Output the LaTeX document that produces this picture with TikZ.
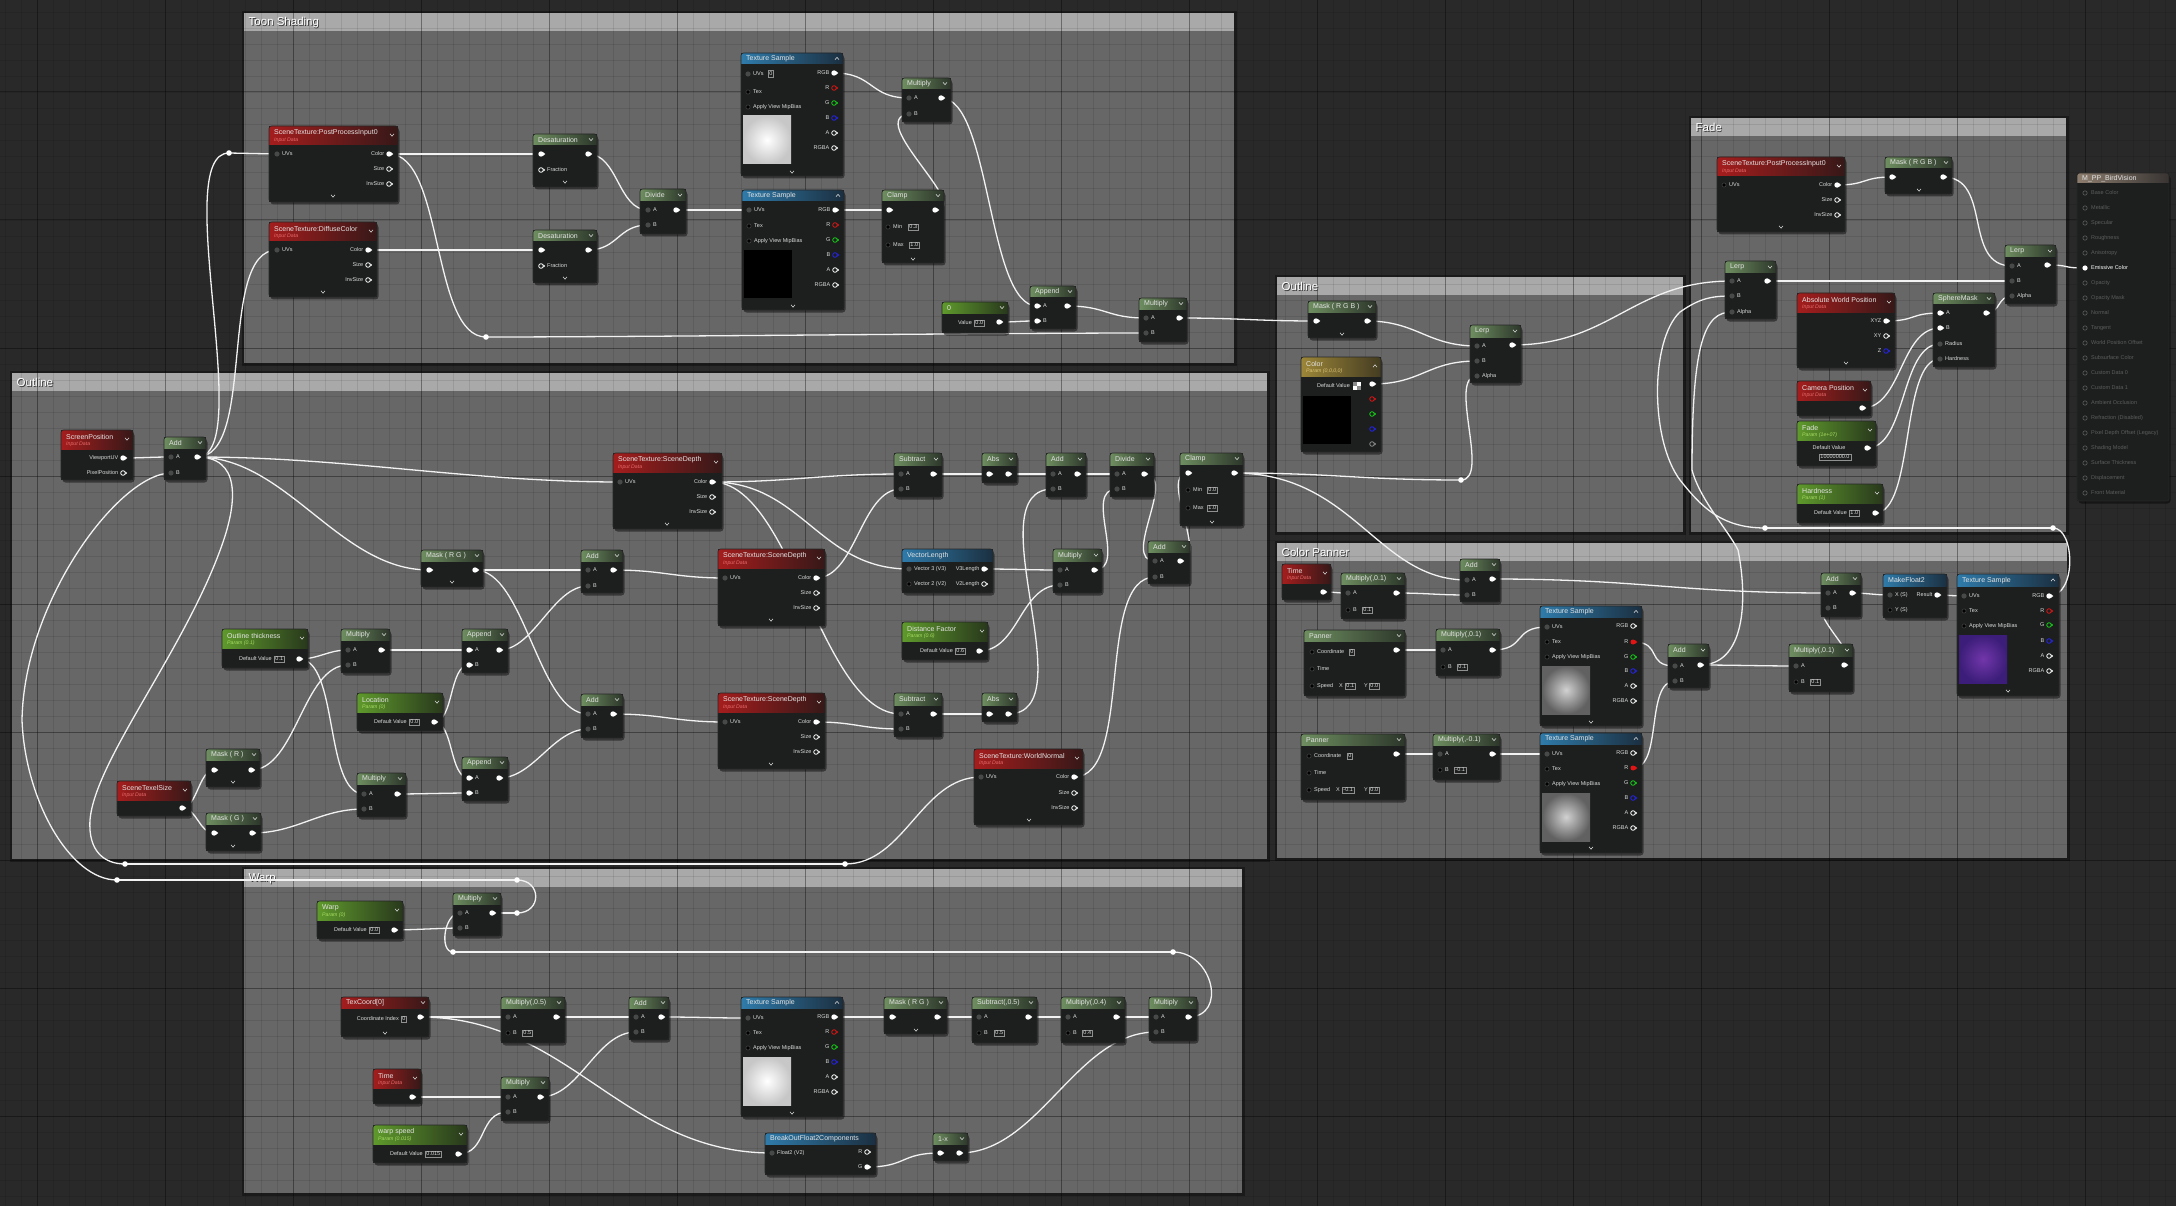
\documentclass[tikz,border=0pt]{standalone}
\usepackage{fontspec}
\setmainfont{Liberation Sans}
\definecolor{bgc}{HTML}{292929}
\definecolor{cbody}{HTML}{676767}
\definecolor{chead}{HTML}{A9A9A9}
\definecolor{nbody}{HTML}{1D1F1F}
\definecolor{ttlc}{HTML}{E4E4E4}
\definecolor{plc}{HTML}{DADADA}
\definecolor{vbc}{HTML}{909090}
\definecolor{hg1}{HTML}{6E8E60}
\definecolor{hg2}{HTML}{2C362A}
\definecolor{hr1}{HTML}{A51D1D}
\definecolor{hr2}{HTML}{361818}
\definecolor{hb1}{HTML}{2F7BAA}
\definecolor{hb2}{HTML}{1B2F40}
\definecolor{hp1}{HTML}{5F9A2C}
\definecolor{hp2}{HTML}{28381C}
\definecolor{hy1}{HTML}{9C8638}
\definecolor{hy2}{HTML}{443C22}
\definecolor{ho1}{HTML}{8C7D6E}
\definecolor{ho2}{HTML}{383432}
\definecolor{subr}{HTML}{E86A6A}
\definecolor{subp}{HTML}{A6DC62}
\definecolor{suby}{HTML}{DCC476}
\definecolor{pind}{HTML}{474949}
\definecolor{dimc}{HTML}{5C5C5C}
\definecolor{pr}{HTML}{E31414}
\definecolor{pg}{HTML}{14D214}
\definecolor{pb}{HTML}{2424F2}
\definecolor{pur1}{HTML}{7236AA}
\definecolor{pur2}{HTML}{3C1E7A}
\definecolor{wirec}{HTML}{F2F2F2}
\pgfdeclarelayer{back}
\pgfdeclarelayer{wires}
\pgfsetlayers{back,wires,main}
\tikzset{
  nodebody/.style={fill=nbody,inner sep=0pt,outer sep=0pt},
  ttl/.style={font=\fontsize{7}{8}\selectfont,text=ttlc,inner sep=0pt},
  subt/.style={font=\fontsize{5.2}{6}\selectfont\itshape,inner sep=0pt},
  plbl/.style={font=\fontsize{5.5}{6}\selectfont,text=plc,inner sep=0pt},
  vbox/.style={draw=vbc,line width=.5pt,font=\fontsize{5.5}{6}\selectfont,text=plc,inner xsep=1.2pt,inner ysep=1.3pt,anchor=west},
  ctitle/.style={font=\fontsize{11.5}{13}\selectfont,text=white,inner sep=0pt},
  chev/.style={draw=plc,line width=.6pt},
  wire/.style={draw=wirec,line width=1.3pt},
  hgreen/.style={left color=hg1,right color=hg2},
  hred/.style={left color=hr1,right color=hr2},
  hblue/.style={left color=hb1,right color=hb2},
  hparam/.style={left color=hp1,right color=hp2},
  hvec/.style={left color=hy1,right color=hy2},
  hout/.style={left color=ho1,right color=ho2},
  thw/.style={inner color=white,outer color=black!22},
  thk/.style={fill=black},
  thc/.style={inner color=black!18,outer color=black!62},
  thp/.style={inner color=pur1,outer color=pur2},
}
\newcommand\chd[2]{\draw[chev] (#1-2,#2-1.1) -- (#1,#2+1.1) -- (#1+2,#2-1.1);}
\newcommand\chu[2]{\draw[chev] (#1-2,#2+1.1) -- (#1,#2-1.1) -- (#1+2,#2+1.1);}
\newcommand\bch[2]{\chd{#1}{#2}}
\newcommand\uenode[9]{%
  \fill[black,opacity=.45,rounded corners=3pt] (#2+1.5,#3+2.5) rectangle (#4+1.5,#5+2.5);
  \node[nodebody,minimum width={#4-#2},minimum height={#5-#3},anchor=north west] (#1) at (#2,#3) {};
  \begin{scope}
    \clip[rounded corners=2.5pt] (#2,#3) rectangle (#4,#5);
    \path[#7] (#2,#3) rectangle (#4,#3+#6);
  \end{scope}
  \draw[black!85,line width=.6pt,rounded corners=2.5pt] (#2,#3) rectangle (#4,#5);
  \pgfmathsetmacro\ueTy{#6>15 ? #3+6.5 : #3+#6/2+0.3}%
  \pgfmathsetmacro\ueCy{#6>15 ? #3+9 : #3+#6/2}%
  \node[ttl,anchor=west] (#1-t) at (#2+5,\ueTy) {#8};
  \if#9d\chd{#4-6}{\ueCy}\fi
  \if#9u\chu{#4-6}{\ueCy}\fi
  \gdef\ueL{#2}\gdef\ueT{#3}%
}
\newcommand\uesub[3]{\node[subt,text=#3,anchor=west] (#1) at (\ueL+5,\ueT+14.3) {#2};}
\newcommand\pinI[4]{\fill[pind] (#2,#3) circle (2.6pt); \coordinate (#1) at (#2,#3); \node[plbl,anchor=west] (#1-l) at (#2+5,#3) {#4};}
\newcommand\pinS[4]{\fill[black] (#2,#3) circle (2.1pt); \draw[pind,line width=.5pt] (#2,#3) circle (2.1pt); \coordinate (#1) at (#2,#3); \node[plbl,anchor=west] (#1-l) at (#2+5,#3) {#4};}
\newcommand\pinW[4]{\fill[white] (#2,#3) circle (2.7pt); \fill[white] (#2+1.8,#3-1.9) -- (#2+4.3,#3) -- (#2+1.8,#3+1.9) -- cycle; \coordinate (#1) at (#2,#3); \node[plbl,anchor=west] (#1-l) at (#2+6,#3) {#4};}
\newcommand\pinHi[4]{\draw[white,line width=.8pt] (#2,#3) circle (2.3pt); \fill[white] (#2+2.3,#3-1.5) -- (#2+4.2,#3) -- (#2+2.3,#3+1.5) -- cycle; \coordinate (#1) at (#2,#3); \node[plbl,anchor=west] (#1-l) at (#2+6,#3) {#4};}
\newcommand\pinO[4]{\fill[white] (#2,#3) circle (2.7pt); \fill[white] (#2+1.8,#3-1.9) -- (#2+4.3,#3) -- (#2+1.8,#3+1.9) -- cycle; \coordinate (#1) at (#2,#3); \node[plbl,anchor=east] (#1-l) at (#2-4.5,#3) {#4};}
\newcommand\pinH[5]{\draw[#5,line width=.8pt] (#2,#3) circle (2.3pt); \fill[#5] (#2+2.3,#3-1.5) -- (#2+4.2,#3) -- (#2+2.3,#3+1.5) -- cycle; \coordinate (#1) at (#2,#3); \node[plbl,anchor=east] (#1-l) at (#2-4.5,#3) {#4};}
\newcommand\pinF[5]{\fill[#5] (#2,#3) circle (2.5pt); \fill[#5] (#2+2,#3-1.8) -- (#2+4.3,#3) -- (#2+2,#3+1.8) -- cycle; \coordinate (#1) at (#2,#3); \node[plbl,anchor=east] (#1-l) at (#2-4.5,#3) {#4};}
\newcommand\rrt[3]{\fill[white] (#2,#3) circle (2.8pt); \coordinate (#1) at (#2,#3);}
\newcommand\vbx[4]{\node[vbox] (#1) at (#2,#3) {#4};}
\newcommand\uthumb[5]{\path[#5] (#1,#2) rectangle (#3,#4);}
\newcommand\uwire[3][40]{\draw[wire] (#2) .. controls +(#1,0) and +(-#1,0) .. (#3);}
\newcommand\ucomment[5]{%
  \fill[black,opacity=.35] (#2-2,#3-2) rectangle (#4+3,#5+3);
  \node[fill=cbody,inner sep=0pt,outer sep=0pt,minimum width={#4-#2},minimum height={#5-#3},anchor=north west] (#1) at (#2,#3) {};
  \fill[chead] (#2,#3) rectangle (#4,#3+18);
  \draw[black!60,line width=.5pt] (#4-9,#5-2) -- (#4-2,#5-9) (#4-6,#5-2) -- (#4-2,#5-6);
}
\newcommand\uctitle[4]{%
  \node[ctitle,text=black!80,anchor=west] (#1-s) at (#2+5.3,#3+10.3) {#4};
  \node[ctitle,anchor=west] (#1-t) at (#2+4.5,#3+9.5) {#4};
}
\begin{document}
\begin{tikzpicture}[x=1pt,y=-1pt]
\useasboundingbox (0,0) rectangle (2176,1206);
\begin{pgfonlayer}{back}
\fill[bgc] (0,0) rectangle (2176,1206);
\ucomment{cToon}{244}{13}{1234}{363}
\ucomment{cOut}{12}{373}{1267}{859}
\ucomment{cWarp}{244}{869}{1242}{1193}
\ucomment{cOut2}{1277}{277}{1683}{532}
\ucomment{cFade}{1691}{118}{2066}{532}
\ucomment{cCP}{1277}{543}{2067}{858}
\begin{scope}
\clip (0,0) rectangle (2176,1206);
\foreach \x in {5,21,...,2176} \draw[black,opacity=.09,line width=.5pt] (\x,0) -- (\x,1206);
\foreach \y in {12,28,...,1206} \draw[black,opacity=.09,line width=.5pt] (0,\y) -- (2176,\y);
\foreach \x in {37,165,...,2176} \draw[black,opacity=.3,line width=1pt] (\x,0) -- (\x,1206);
\foreach \y in {92,220,...,1206} \draw[black,opacity=.3,line width=1pt] (0,\y) -- (2176,\y);
\end{scope}
\uctitle{cToon}{244}{13}{Toon Shading}
\uctitle{cOut}{12}{373}{Outline}
\uctitle{cWarp}{244}{869}{Warp}
\uctitle{cOut2}{1277}{277}{Outline}
\uctitle{cFade}{1691}{118}{Fade}
\uctitle{cCP}{1277}{543}{Color Panner}
\end{pgfonlayer}

% ---------------- Toon Shading
\uenode{ppi}{269}{126}{398}{202}{19}{hred}{SceneTexture:PostProcessInput0}{d}
\uesub{ppi-s}{Input Data}{subr}
\pinI{ppiUV}{277}{154}{UVs}
\pinO{ppiC}{389}{154}{Color}
\pinH{ppiS}{389}{169}{Size}{white}
\pinH{ppiIS}{389}{184}{InvSize}{white}
\bch{333}{196}

\uenode{dif}{269}{222}{377}{297}{19}{hred}{SceneTexture:DiffuseColor}{d}
\uesub{dif-s}{Input Data}{subr}
\pinI{difUV}{277}{250}{UVs}
\pinO{difC}{368}{250}{Color}
\pinH{difS}{368}{265}{Size}{white}
\pinH{difIS}{368}{280}{InvSize}{white}
\bch{323}{292}

\uenode{des1}{533}{134}{597}{187}{11}{hgreen}{Desaturation}{d}
\pinW{des1I}{541}{154}{}
\pinO{des1O}{588}{154}{}
\pinHi{des1F}{541}{170}{Fraction}
\bch{565}{182}

\uenode{des2}{533}{230}{597}{283}{11}{hgreen}{Desaturation}{d}
\pinW{des2I}{541}{250}{}
\pinO{des2O}{588}{250}{}
\pinHi{des2F}{541}{266}{Fraction}
\bch{565}{278}

\uenode{div1}{640}{189}{686}{234}{12}{hgreen}{Divide}{d}
\pinI{div1A}{648}{210}{A}
\pinI{div1B}{648}{225}{B}
\pinO{div1O}{676}{210}{}

\uenode{ts1}{741}{53}{843}{176}{11}{hblue}{Texture Sample}{u}
\pinI{ts1UV}{748}{74}{UVs}
\vbx{ts1v}{768}{74}{0}
\pinS{ts1T}{748}{92}{Tex}
\pinS{ts1M}{748}{107}{Apply View MipBias}
\uthumb{743}{116}{791}{164}{thw}
\pinO{ts1RGB}{834}{73}{RGB}
\pinH{ts1R}{834}{88}{R}{pr}
\pinH{ts1G}{834}{103}{G}{pg}
\pinH{ts1B}{834}{118}{B}{pb}
\pinH{ts1A}{834}{133}{A}{white}
\pinH{ts1RGBA}{834}{148}{RGBA}{white}
\bch{792}{172}

\uenode{ts2}{742}{190}{844}{310}{11}{hblue}{Texture Sample}{u}
\pinI{ts2UV}{749}{210}{UVs}
\pinS{ts2T}{749}{226}{Tex}
\pinS{ts2M}{749}{241}{Apply View MipBias}
\uthumb{744}{250}{792}{298}{thk}
\pinO{ts2RGB}{835}{210}{RGB}
\pinH{ts2R}{835}{225}{R}{pr}
\pinH{ts2G}{835}{240}{G}{pg}
\pinH{ts2B}{835}{255}{B}{pb}
\pinH{ts2A}{835}{270}{A}{white}
\pinH{ts2RGBA}{835}{285}{RGBA}{white}
\bch{793}{306}

\uenode{mul1}{902}{78}{951}{122}{11}{hgreen}{Multiply}{d}
\pinI{mul1A}{909}{98}{A}
\pinI{mul1B}{909}{114}{B}
\pinO{mul1O}{941}{98}{}

\uenode{clp1}{882}{190}{944}{263}{11}{hgreen}{Clamp}{d}
\pinW{clp1I}{889}{210}{}
\pinO{clp1O}{935}{210}{}
\pinS{clp1mn}{888}{227}{Min}
\vbx{clp1v}{908}{227}{0.3}
\pinS{clp1mx}{888}{245}{Max}
\vbx{clp1w}{909}{245}{1.0}
\bch{913}{259}

\uenode{c0}{942}{302}{1008}{333}{11}{hparam}{0}{d}
\node[plbl,anchor=east] (c0l) at (972,323) {Value};
\vbx{c0v}{974}{323}{0.0}
\pinO{c0O}{999}{322}{}

\uenode{app1}{1030}{286}{1076}{329}{11}{hgreen}{Append}{d}
\pinW{app1A}{1037}{306}{A}
\pinW{app1B}{1037}{321}{B}
\pinO{app1O}{1067}{306}{}

\uenode{mul2}{1139}{298}{1187}{342}{11}{hgreen}{Multiply}{d}
\pinI{mul2A}{1146}{318}{A}
\pinI{mul2B}{1146}{333}{B}
\pinO{mul2O}{1179}{318}{}

\rrt{rrT}{486}{337}
\rrt{rrL}{229}{153}

% ---------------- Outline (left)
\uenode{spos}{61}{430}{133}{480}{19}{hred}{ScreenPosition}{d}
\uesub{spos-s}{Input Data}{subr}
\pinO{sposV}{123}{458}{ViewportUV}
\pinH{sposP}{123}{473}{PixelPosition}{white}

\uenode{add1}{164}{437}{206}{480}{11}{hgreen}{Add}{d}
\pinI{add1A}{171}{457}{A}
\pinI{add1B}{171}{473}{B}
\pinO{add1O}{197}{457}{}

\uenode{mrg1}{421}{550}{483}{587}{11}{hgreen}{Mask ( R G )}{d}
\pinW{mrg1I}{429}{570}{}
\pinO{mrg1O}{475}{570}{}
\bch{452}{582}

\uenode{add2}{581}{550}{623}{593}{11}{hgreen}{Add}{d}
\pinI{add2A}{588}{570}{A}
\pinI{add2B}{588}{586}{B}
\pinO{add2O}{613}{570}{}

\uenode{othk}{222}{629}{308}{668}{19}{hparam}{Outline thickness}{d}
\uesub{othk-s}{Param (0.1)}{subp}
\node[plbl,anchor=east] (othkl) at (272,659) {Default Value};
\vbx{othkv}{274}{659}{0.1}
\pinO{othkO}{299}{659}{}

\uenode{mulu}{341}{629}{390}{673}{11}{hgreen}{Multiply}{d}
\pinI{muluA}{348}{650}{A}
\pinI{muluB}{348}{665}{B}
\pinO{muluO}{381}{650}{}

\uenode{app2}{462}{629}{508}{673}{11}{hgreen}{Append}{d}
\pinW{app2A}{469}{650}{A}
\pinW{app2B}{469}{665}{B}
\pinO{app2O}{499}{650}{}

\uenode{loc}{357}{693}{443}{731}{19}{hparam}{Location}{d}
\uesub{loc-s}{Param (0)}{subp}
\node[plbl,anchor=east] (locl) at (407,722) {Default Value};
\vbx{locv}{409}{722}{0.0}
\pinO{locO}{434}{722}{}

\uenode{add3}{581}{694}{623}{738}{11}{hgreen}{Add}{d}
\pinI{add3A}{588}{714}{A}
\pinI{add3B}{588}{729}{B}
\pinO{add3O}{613}{714}{}

\uenode{mr}{206}{749}{260}{787}{11}{hgreen}{Mask ( R )}{d}
\pinW{mrI}{214}{770}{}
\pinO{mrO}{251}{770}{}
\bch{233}{782}

\uenode{tex}{117}{781}{191}{816}{19}{hred}{SceneTexelSize}{d}
\uesub{tex-s}{Input Data}{subr}
\pinO{texO}{182}{808}{}

\uenode{mg}{206}{813}{261}{851}{11}{hgreen}{Mask ( G )}{d}
\pinW{mgI}{214}{833}{}
\pinO{mgO}{252}{833}{}
\bch{233}{846}

\uenode{mull}{357}{773}{406}{817}{11}{hgreen}{Multiply}{d}
\pinI{mullA}{364}{794}{A}
\pinI{mullB}{364}{809}{B}
\pinO{mullO}{397}{794}{}

\uenode{app3}{462}{757}{508}{801}{11}{hgreen}{Append}{d}
\pinW{app3A}{469}{778}{A}
\pinW{app3B}{469}{793}{B}
\pinO{app3O}{499}{778}{}

\uenode{sd1}{613}{453}{722}{529}{19}{hred}{SceneTexture:SceneDepth}{d}
\uesub{sd1-s}{Input Data}{subr}
\pinI{sd1UV}{620}{482}{UVs}
\pinO{sd1C}{712}{482}{Color}
\pinH{sd1S}{712}{497}{Size}{white}
\pinH{sd1IS}{712}{512}{InvSize}{white}
\bch{667}{524}

\uenode{sd2}{718}{549}{825}{626}{19}{hred}{SceneTexture:SceneDepth}{d}
\uesub{sd2-s}{Input Data}{subr}
\pinI{sd2UV}{725}{578}{UVs}
\pinO{sd2C}{816}{578}{Color}
\pinH{sd2S}{816}{593}{Size}{white}
\pinH{sd2IS}{816}{608}{InvSize}{white}
\bch{771}{620}

\uenode{sd3}{718}{693}{825}{769}{19}{hred}{SceneTexture:SceneDepth}{d}
\uesub{sd3-s}{Input Data}{subr}
\pinI{sd3UV}{725}{722}{UVs}
\pinO{sd3C}{816}{722}{Color}
\pinH{sd3S}{816}{737}{Size}{white}
\pinH{sd3IS}{816}{752}{InvSize}{white}
\bch{771}{764}

\uenode{sub1}{894}{453}{942}{497}{12}{hgreen}{Subtract}{d}
\pinI{sub1A}{901}{474}{A}
\pinI{sub1B}{901}{489}{B}
\pinO{sub1O}{933}{474}{}

\uenode{abs1}{982}{453}{1017}{483}{12}{hgreen}{Abs}{d}
\pinW{abs1I}{989}{474}{}
\pinO{abs1O}{1008}{474}{}

\uenode{add4}{1046}{453}{1086}{497}{12}{hgreen}{Add}{d}
\pinI{add4A}{1053}{474}{A}
\pinI{add4B}{1053}{489}{B}
\pinO{add4O}{1077}{474}{}

\uenode{div2}{1110}{453}{1154}{497}{12}{hgreen}{Divide}{d}
\pinI{div2A}{1117}{474}{A}
\pinI{div2B}{1117}{489}{B}
\pinO{div2O}{1144}{474}{}

\uenode{clp2}{1180}{453}{1243}{526}{11}{hgreen}{Clamp}{d}
\pinW{clp2I}{1188}{473}{}
\pinO{clp2O}{1234}{473}{}
\pinS{clp2mn}{1188}{490}{Min}
\vbx{clp2v}{1207}{490}{0.0}
\pinS{clp2mx}{1188}{508}{Max}
\vbx{clp2w}{1207}{508}{1.0}
\bch{1212}{522}

\uenode{vlen}{902}{549}{993}{593}{12}{hblue}{VectorLength}{n}
\pinI{vlenI}{909}{569}{Vector 3 (V3)}
\pinS{vlenI2}{909}{584}{Vector 2 (V2)}
\pinO{vlenO}{984}{569}{V3Length}
\pinH{vlenO2}{984}{584}{V2Length}{white}

\uenode{mulm}{1053}{549}{1102}{593}{12}{hgreen}{Multiply}{d}
\pinI{mulmA}{1060}{570}{A}
\pinI{mulmB}{1060}{585}{B}
\pinO{mulmO}{1094}{570}{}

\uenode{add5}{1148}{541}{1190}{584}{11}{hgreen}{Add}{d}
\pinI{add5A}{1155}{561}{A}
\pinI{add5B}{1155}{577}{B}
\pinO{add5O}{1180}{561}{}

\uenode{dfac}{902}{622}{988}{660}{19}{hparam}{Distance Factor}{d}
\uesub{dfac-s}{Param (0.6)}{subp}
\node[plbl,anchor=east] (dfacl) at (953,651) {Default Value};
\vbx{dfacv}{955}{651}{0.6}
\pinO{dfacO}{979}{651}{}

\uenode{sub2}{894}{693}{942}{737}{12}{hgreen}{Subtract}{d}
\pinI{sub2A}{901}{714}{A}
\pinI{sub2B}{901}{729}{B}
\pinO{sub2O}{933}{714}{}

\uenode{abs2}{982}{693}{1017}{722}{12}{hgreen}{Abs}{d}
\pinW{abs2I}{989}{714}{}
\pinO{abs2O}{1008}{714}{}

\uenode{wn}{974}{749}{1083}{825}{19}{hred}{SceneTexture:WorldNormal}{d}
\uesub{wn-s}{Input Data}{subr}
\pinI{wnUV}{981}{777}{UVs}
\pinO{wnC}{1074}{777}{Color}
\pinH{wnS}{1074}{793}{Size}{white}
\pinH{wnIS}{1074}{808}{InvSize}{white}
\bch{1029}{820}

\rrt{rrA}{125}{864}
\rrt{rrB}{845}{864}
\rrt{rrC}{117}{880}
\rrt{rrM}{1461}{480}

% ---------------- Outline (right)
\uenode{rmask}{1308}{301}{1376}{338}{11}{hgreen}{Mask ( R G B )}{d}
\pinW{rmaskI}{1316}{321}{}
\pinO{rmaskO}{1367}{321}{}
\bch{1342}{334}

\uenode{col}{1301}{357}{1381}{452}{19}{hvec}{Color}{u}
\uesub{col-s}{Param (0,0,0,0)}{suby}
\node[plbl,anchor=east] (coll) at (1350,386) {Default Value};
\fill[white] (1353,382) rectangle (1361,390);
\fill[black!45] (1353,382) rectangle (1357,386);
\fill[black!45] (1357,386) rectangle (1361,390);
\pinO{colO}{1372}{384}{}
\fill[black] (1303,396) rectangle (1351,444);
\pinH{colR}{1372}{399}{}{pr}
\pinH{colG}{1372}{414}{}{pg}
\pinH{colB}{1372}{429}{}{pb}
\pinH{colA}{1372}{444}{}{black!45}

\uenode{lrp1}{1470}{325}{1521}{383}{12}{hgreen}{Lerp}{d}
\pinI{lrp1A}{1477}{346}{A}
\pinI{lrp1B}{1477}{361}{B}
\pinI{lrp1Al}{1477}{376}{Alpha}
\pinO{lrp1O}{1512}{345}{}

% ---------------- Fade
\uenode{fppi}{1717}{157}{1845}{232}{19}{hred}{SceneTexture:PostProcessInput0}{d}
\uesub{fppi-s}{Input Data}{subr}
\pinS{fppiUV}{1724}{185}{UVs}
\pinO{fppiC}{1837}{185}{Color}
\pinH{fppiS}{1837}{200}{Size}{white}
\pinH{fppiIS}{1837}{215}{InvSize}{white}
\bch{1781}{227}

\uenode{fmask}{1885}{157}{1952}{194}{11}{hgreen}{Mask ( R G B )}{d}
\pinW{fmaskI}{1892}{177}{}
\pinO{fmaskO}{1943}{177}{}
\bch{1919}{190}

\uenode{lrpL}{1725}{261}{1776}{319}{12}{hgreen}{Lerp}{d}
\pinI{lrpLA}{1732}{281}{A}
\pinI{lrpLB}{1732}{296}{B}
\pinI{lrpLAl}{1732}{312}{Alpha}
\pinO{lrpLO}{1767}{281}{}

\uenode{awp}{1797}{293}{1895}{368}{19}{hred}{Absolute World Position}{d}
\uesub{awp-s}{Input Data}{subr}
\pinO{awpO}{1886}{321}{XYZ}
\pinH{awpXY}{1886}{336}{XY}{white}
\pinH{awpZ}{1886}{351}{Z}{pb}
\bch{1846}{363}

\uenode{cam}{1797}{381}{1871}{416}{19}{hred}{Camera Position}{d}
\uesub{cam-s}{Input Data}{subr}
\pinO{camO}{1862}{408}{}

\uenode{fadep}{1797}{421}{1876}{466}{19}{hparam}{Fade}{d}
\uesub{fadep-s}{Param (1e+07)}{subp}
\node[plbl] (fadepl) at (1829,448) {Default Value};
\node[vbox,anchor=center] (fadepv) at (1835,457) {10000000.0};
\pinO{fadeO}{1867}{448}{}

\uenode{hard}{1797}{484}{1883}{523}{19}{hparam}{Hardness}{d}
\uesub{hard-s}{Param (1)}{subp}
\node[plbl,anchor=east] (hardl) at (1847,513) {Default Value};
\vbx{hardv}{1849}{513}{1.0}
\pinO{hardO}{1875}{513}{}

\uenode{smask}{1933}{293}{1995}{367}{11}{hgreen}{SphereMask}{d}
\pinW{smA}{1940}{313}{A}
\pinW{smB}{1940}{328}{B}
\pinI{smR}{1940}{344}{Radius}
\pinI{smH}{1940}{359}{Hardness}
\pinO{smO}{1986}{313}{}

\uenode{lrpR}{2005}{245}{2056}{304}{12}{hgreen}{Lerp}{d}
\pinI{lrpRA}{2012}{266}{A}
\pinI{lrpRB}{2012}{281}{B}
\pinI{lrpRAl}{2012}{296}{Alpha}
\pinO{lrpRO}{2047}{265}{}

\rrt{rrF1}{1765}{528}
\rrt{rrF2}{2053}{528}

% ---------------- Output node
\uenode{outn}{2077}{173}{2169}{501}{10}{hout}{M\_PP\_BirdVision}{n}
\foreach \lab [count=\i from 0] in {Base Color,Metallic,Specular,Roughness,Anisotropy,Emissive Color,Opacity,Opacity Mask,Normal,Tangent,World Position Offset,Subsurface Color,Custom Data 0,Custom Data 1,Ambient Occlusion,Refraction (Disabled),Pixel Depth Offset (Legacy),Shading Model,Surface Thickness,Displacement,Front Material}{
  \pgfmathsetmacro\opy{193+15*\i}
  \ifnum\i=5
    \fill[white] (2085,\opy) circle (2.6pt);
    \node[plbl,anchor=west,text=white] (outl\i) at (2091,\opy) {\lab};
  \else
    \draw[dimc,line width=.6pt] (2085,\opy) circle (2.2pt);
    \node[plbl,anchor=west,text=dimc] (outl\i) at (2091,\opy) {\lab};
  \fi
}
\coordinate (outEm) at (2085,268);

% ---------------- Color Panner
\uenode{cptime}{1282}{564}{1331}{600}{19}{hred}{Time}{d}
\uesub{cptime-s}{Input Data}{subr}
\pinO{cptimeO}{1323}{592}{}

\uenode{cpm1}{1341}{573}{1405}{619}{11}{hgreen}{Multiply(,0.1)}{d}
\pinI{cpm1A}{1348}{593}{A}
\pinS{cpm1B}{1348}{610}{B}
\vbx{cpm1v}{1362}{610}{0.1}
\pinO{cpm1O}{1396}{593}{}

\uenode{cpaddT}{1460}{559}{1500}{602}{11}{hgreen}{Add}{d}
\pinI{cpaddTA}{1467}{580}{A}
\pinI{cpaddTB}{1467}{595}{B}
\pinO{cpaddTO}{1492}{579}{}

\uenode{pan1}{1304}{630}{1405}{696}{11}{hgreen}{Panner}{d}
\pinS{pan1C}{1312}{652}{Coordinate}
\vbx{pan1v}{1349}{652}{0}
\pinS{pan1T}{1312}{669}{Time}
\pinS{pan1S}{1312}{686}{Speed}
\node[plbl] (pan1x) at (1341,686) {X};
\vbx{pan1vx}{1345}{686}{0.1}
\node[plbl] (pan1y) at (1366,686) {Y};
\vbx{pan1vy}{1369}{686}{0.0}
\pinO{pan1O}{1396}{650}{}

\uenode{cpm2}{1436}{629}{1500}{676}{11}{hgreen}{Multiply(,0.1)}{d}
\pinI{cpm2A}{1443}{650}{A}
\pinS{cpm2B}{1443}{667}{B}
\vbx{cpm2v}{1457}{667}{0.1}
\pinO{cpm2O}{1492}{650}{}

\uenode{cpts1}{1540}{606}{1642}{726}{11}{hblue}{Texture Sample}{u}
\pinI{cpts1UV}{1547}{627}{UVs}
\pinS{cpts1T}{1547}{642}{Tex}
\pinS{cpts1M}{1547}{657}{Apply View MipBias}
\uthumb{1542}{666}{1590}{714}{thc}
\pinH{cpts1RGB}{1633}{626}{RGB}{white}
\pinF{cpts1R}{1633}{642}{R}{pr}
\pinH{cpts1G}{1633}{657}{G}{pg}
\pinH{cpts1B}{1633}{671}{B}{pb}
\pinH{cpts1A}{1633}{686}{A}{white}
\pinH{cpts1RGBA}{1633}{701}{RGBA}{white}
\bch{1591}{722}

\uenode{pan2}{1301}{734}{1405}{800}{11}{hgreen}{Panner}{d}
\pinS{pan2C}{1309}{756}{Coordinate}
\vbx{pan2v}{1347}{756}{0}
\pinS{pan2T}{1309}{773}{Time}
\pinS{pan2S}{1309}{790}{Speed}
\node[plbl] (pan2x) at (1338,790) {X};
\vbx{pan2vx}{1342}{790}{-0.1}
\node[plbl] (pan2y) at (1366,790) {Y};
\vbx{pan2vy}{1369}{790}{0.0}
\pinO{pan2O}{1396}{754}{}

\uenode{cpm3}{1433}{734}{1500}{780}{11}{hgreen}{Multiply(,-0.1)}{d}
\pinI{cpm3A}{1440}{754}{A}
\pinS{cpm3B}{1440}{770}{B}
\vbx{cpm3v}{1454}{770}{-0.1}
\pinO{cpm3O}{1492}{754}{}

\uenode{cpts2}{1540}{733}{1642}{853}{11}{hblue}{Texture Sample}{u}
\pinI{cpts2UV}{1547}{754}{UVs}
\pinS{cpts2T}{1547}{769}{Tex}
\pinS{cpts2M}{1547}{784}{Apply View MipBias}
\uthumb{1542}{793}{1590}{841}{thc}
\pinH{cpts2RGB}{1633}{753}{RGB}{white}
\pinF{cpts2R}{1633}{768}{R}{pr}
\pinH{cpts2G}{1633}{783}{G}{pg}
\pinH{cpts2B}{1633}{798}{B}{pb}
\pinH{cpts2A}{1633}{813}{A}{white}
\pinH{cpts2RGBA}{1633}{828}{RGBA}{white}
\bch{1591}{848}

\uenode{cpaddM}{1668}{644}{1709}{688}{12}{hgreen}{Add}{d}
\pinI{cpaddMA}{1675}{666}{A}
\pinI{cpaddMB}{1675}{681}{B}
\pinO{cpaddMO}{1700}{665}{}

\uenode{cpm4}{1789}{644}{1853}{692}{12}{hgreen}{Multiply(,0.1)}{d}
\pinI{cpm4A}{1796}{666}{A}
\pinS{cpm4B}{1796}{682}{B}
\vbx{cpm4v}{1810}{682}{0.1}
\pinO{cpm4O}{1844}{665}{}

\uenode{cpaddR}{1821}{573}{1861}{617}{11}{hgreen}{Add}{d}
\pinI{cpaddRA}{1828}{593}{A}
\pinI{cpaddRB}{1828}{608}{B}
\pinO{cpaddRO}{1852}{593}{}

\uenode{mkf}{1883}{574}{1947}{618}{12}{hblue}{MakeFloat2}{n}
\pinI{mkfX}{1890}{595}{X (S)}
\pinS{mkfY}{1890}{610}{Y (S)}
\pinO{mkfO}{1937}{595}{Result}

\uenode{cpts3}{1957}{574}{2059}{696}{12}{hblue}{Texture Sample}{u}
\pinI{cpts3UV}{1964}{596}{UVs}
\pinS{cpts3T}{1964}{611}{Tex}
\pinS{cpts3M}{1964}{626}{Apply View MipBias}
\uthumb{1959}{635}{2007}{683}{thp}
\pinO{cpts3O}{2049}{596}{RGB}
\pinH{cpts3R}{2049}{611}{R}{pr}
\pinH{cpts3G}{2049}{625}{G}{pg}
\pinH{cpts3B}{2049}{641}{B}{pb}
\pinH{cpts3A}{2049}{656}{A}{white}
\pinH{cpts3RGBA}{2049}{671}{RGBA}{white}
\bch{2008}{691}

% ---------------- Warp
\uenode{warp}{317}{901}{403}{939}{19}{hparam}{Warp}{d}
\uesub{warp-s}{Param (0)}{subp}
\node[plbl,anchor=east] (warpl) at (367,930) {Default Value};
\vbx{warpv}{369}{930}{0.0}
\pinO{warpO}{394}{930}{}

\uenode{wmul}{453}{893}{501}{936}{11}{hgreen}{Multiply}{d}
\pinI{wmulA}{460}{913}{A}
\pinI{wmulB}{460}{928}{B}
\pinO{wmulO}{492}{913}{}

\uenode{tc}{341}{997}{429}{1037}{11}{hred}{TexCoord[0]}{d}
\node[plbl,anchor=east] (tcl) at (399,1019) {Coordinate Index};
\vbx{tcv}{401}{1019}{0}
\pinO{tcO}{420}{1017}{}
\bch{385}{1033}

\uenode{wm5}{501}{997}{565}{1043}{11}{hgreen}{Multiply(,0.5)}{d}
\pinI{wm5A}{508}{1017}{A}
\pinS{wm5B}{508}{1033}{B}
\vbx{wm5v}{522}{1033}{0.5}
\pinO{wm5O}{556}{1017}{}

\uenode{wadd}{629}{997}{669}{1040}{11}{hgreen}{Add}{d}
\pinI{waddA}{636}{1017}{A}
\pinI{waddB}{636}{1032}{B}
\pinO{waddO}{661}{1017}{}

\uenode{time}{373}{1069}{421}{1104}{19}{hred}{Time}{d}
\uesub{time-s}{Input Data}{subr}
\pinO{timeO}{412}{1097}{}

\uenode{wmt}{501}{1077}{549}{1121}{11}{hgreen}{Multiply}{d}
\pinI{wmtA}{508}{1097}{A}
\pinI{wmtB}{508}{1112}{B}
\pinO{wmtO}{540}{1097}{}

\uenode{spd}{373}{1125}{467}{1163}{19}{hparam}{warp speed}{d}
\uesub{spd-s}{Param (0.015)}{subp}
\node[plbl,anchor=east] (spdl) at (423,1154) {Default Value};
\vbx{spdv}{425}{1154}{0.015}
\pinO{spdO}{458}{1154}{}

\uenode{wts}{741}{997}{843}{1117}{11}{hblue}{Texture Sample}{u}
\pinI{wtsUV}{748}{1018}{UVs}
\pinS{wtsT}{748}{1033}{Tex}
\pinS{wtsM}{748}{1048}{Apply View MipBias}
\uthumb{743}{1057}{791}{1105}{thw}
\pinO{wtsRGB}{834}{1017}{RGB}
\pinH{wtsR}{834}{1032}{R}{pr}
\pinH{wtsG}{834}{1047}{G}{pg}
\pinH{wtsB}{834}{1062}{B}{pb}
\pinH{wtsA}{834}{1077}{A}{white}
\pinH{wtsRGBA}{834}{1092}{RGBA}{white}
\bch{792}{1113}

\uenode{wmask}{884}{997}{947}{1034}{11}{hgreen}{Mask ( R G )}{d}
\pinW{wmaskI}{892}{1017}{}
\pinO{wmaskO}{937}{1017}{}
\bch{916}{1030}

\uenode{wsub}{972}{997}{1037}{1043}{11}{hgreen}{Subtract(,0.5)}{d}
\pinI{wsubA}{979}{1017}{A}
\pinS{wsubB}{979}{1033}{B}
\vbx{wsubv}{994}{1033}{0.5}
\pinO{wsubO}{1028}{1017}{}

\uenode{wm4}{1061}{997}{1125}{1043}{11}{hgreen}{Multiply(,0.4)}{d}
\pinI{wm4A}{1068}{1017}{A}
\pinS{wm4B}{1068}{1033}{B}
\vbx{wm4v}{1082}{1033}{0.4}
\pinO{wm4O}{1116}{1017}{}

\uenode{wmf}{1149}{997}{1197}{1041}{11}{hgreen}{Multiply}{d}
\pinI{wmfA}{1156}{1017}{A}
\pinI{wmfB}{1156}{1032}{B}
\pinO{wmfO}{1188}{1017}{}

\uenode{brk}{765}{1133}{876}{1175}{11}{hblue}{BreakOutFloat2Components}{n}
\pinI{brkI}{772}{1153}{Float2 (V2)}
\pinH{brkR}{867}{1152}{R}{white}
\pinO{brkG}{867}{1167}{G}

\uenode{omx}{933}{1133}{968}{1161}{11}{hgreen}{1-x}{d}
\pinW{omxI}{940}{1153}{}
\pinO{omxO}{959}{1153}{}

\rrt{rrW0}{517}{913}
\rrt{rrW1}{517}{880}
\rrt{rrW2}{453}{952}
\rrt{rrW3}{1173}{952}

% ================= wires
\begin{pgfonlayer}{wires}
% toon
\uwire[50]{ppiC}{des1I}
\draw[wire] (ppiC) .. controls +(55,0) and +(-55,0) .. (rrT);
\uwire[150]{rrT}{mul2B}
\uwire[50]{difC}{des2I}
\uwire[30]{des1O}{div1A}
\uwire[30]{des2O}{div1B}
\uwire[30]{div1O}{ts2UV}
\uwire[40]{ts1RGB}{mul1A}
\uwire[30]{ts2RGB}{clp1I}
\draw[wire] (clp1O) .. controls +(40,0) and +(-45,5) .. (mul1B);
\uwire[50]{mul1O}{app1A}
\uwire[20]{c0O}{app1B}
\uwire[40]{app1O}{mul2A}
\uwire[60]{mul2O}{rmaskI}
% outline
\uwire[20]{sposV}{add1A}
\draw[wire] (rrC) .. controls (70,880) and (25,800) .. (22,720) .. controls (24,600) and (120,473) .. (add1B);
\draw[wire] (add1O) .. controls (240,457) and (238,500) .. (222,545) .. controls (185,650) and (95,760) .. (90,820) .. controls (88,852) and (105,864) .. (rrA);
\uwire[25]{rrA}{rrB}
\uwire[60]{rrB}{wnUV}
\uwire[60]{add1O}{rrL}
\uwire[60]{add1O}{difUV}
\draw[wire] (rrL) -- (ppiUV);
\uwire[150]{add1O}{sd1UV}
\uwire[90]{add1O}{mrg1I}
\uwire[30]{mrg1O}{add2A}
\uwire[50]{mrg1O}{add3A}
\uwire[35]{app2O}{add2B}
\uwire[35]{app3O}{add3B}
\uwire[20]{othkO}{muluA}
\uwire[40]{othkO}{mullA}
\uwire[45]{mrO}{muluB}
\uwire[45]{mgO}{mullB}
\uwire[15]{texO}{mrI}
\uwire[15]{texO}{mgI}
\uwire[20]{muluO}{app2A}
\uwire[20]{locO}{app2B}
\uwire[20]{locO}{app3A}
\uwire[20]{mullO}{app3B}
\uwire[50]{add2O}{sd2UV}
\uwire[50]{add3O}{sd3UV}
\uwire[80]{sd1C}{sub1A}
\uwire[80]{sd1C}{sub2A}
\uwire[90]{sd1C}{vlenI}
\uwire[40]{sd2C}{sub1B}
\uwire[40]{sd3C}{sub2B}
\uwire[15]{sub1O}{abs1I}
\uwire[15]{abs1O}{add4A}
\uwire[15]{sub2O}{abs2I}
\uwire[80]{abs2O}{add4B}
\uwire[15]{add4O}{div2A}
\uwire[30]{vlenO}{mulmA}
\uwire[40]{dfacO}{mulmB}
\uwire[35]{mulmO}{div2B}
\uwire[35]{div2O}{add5A}
\uwire[60]{wnC}{add5B}
\uwire[30]{add5O}{clp2I}
\uwire[100]{clp2O}{rrM}
\draw[wire] (clp2O) .. controls +(120,0) and +(-90,0) .. (cpaddTA);
\uwire[30]{rrM}{lrp1Al}
% right outline
\uwire[50]{rmaskO}{lrp1A}
\uwire[50]{colO}{lrp1B}
\uwire[100]{lrp1O}{lrpLA}
% fade
\uwire[30]{fppiC}{fmaskI}
\uwire[50]{fmaskO}{lrpRA}
\uwire[30]{lrpLO}{lrpRB}
\uwire[15]{smO}{lrpRAl}
\uwire[30]{awpO}{smA}
\uwire[40]{camO}{smB}
\uwire[40]{fadeO}{smR}
\uwire[40]{hardO}{smH}
\draw[wire] (rrF1) .. controls (1720,528) and (1700,505) .. (1680,480) .. controls (1650,440) and (1650,340) .. (1680,312) .. controls (1700,298) and (1712,296) .. (lrpLB);
\draw[wire] (rrF2) -- (rrF1);
\draw[wire] (cpts3O) .. controls +(28,0) and +(22,0) .. (rrF2);
\draw[wire] (cpaddMO) .. controls (1745,665) and (1748,600) .. (1738,550) .. controls (1728,530) and (1700,500) .. (1692,470) .. controls (1692,340) and (1705,312) .. (lrpLAl);
\uwire[25]{lrpRO}{outEm}
% color panner
\uwire[15]{cptimeO}{cpm1A}
\uwire[30]{cpm1O}{cpaddTB}
\uwire[150]{cpaddTO}{cpaddRA}
\uwire[20]{pan1O}{cpm2A}
\uwire[35]{cpm2O}{cpts1UV}
\uwire[20]{pan2O}{cpm3A}
\uwire[20]{cpm3O}{cpts2UV}
\uwire[30]{cpts1R}{cpaddMA}
\uwire[30]{cpts2R}{cpaddMB}
\uwire[30]{cpaddMO}{cpm4A}
\draw[wire] (cpm4O) .. controls +(25,0) and +(-25,0) .. (cpaddRB);
\uwire[15]{cpaddRO}{mkfX}
\uwire[10]{mkfO}{cpts3UV}
% warp
\uwire[15]{warpO}{wmulB}
\draw[wire] (wmulO) -- (rrW0);
\draw[wire] (rrW0) .. controls +(25,0) and +(25,0) .. (rrW1);
\draw[wire] (rrW1) -- (rrC);
\draw[wire] (wmfO) .. controls +(40,0) and +(40,0) .. (rrW3);
\draw[wire] (rrW3) -- (rrW2);
\draw[wire] (rrW2) .. controls +(-14,0) and +(-16,0) .. (wmulA);
\uwire[40]{tcO}{wm5A}
\uwire[150]{tcO}{brkI}
\uwire[30]{wm5O}{waddA}
\uwire[15]{timeO}{wmtA}
\uwire[30]{spdO}{wmtB}
\uwire[40]{wmtO}{waddB}
\uwire[40]{waddO}{wtsUV}
\uwire[20]{wtsRGB}{wmaskI}
\uwire[15]{wmaskO}{wsubA}
\uwire[15]{wsubO}{wm4A}
\uwire[15]{wm4O}{wmfA}
\uwire[40]{brkG}{omxI}
\uwire[80]{omxO}{wmfB}
\end{pgfonlayer}
\end{tikzpicture}
\end{document}
